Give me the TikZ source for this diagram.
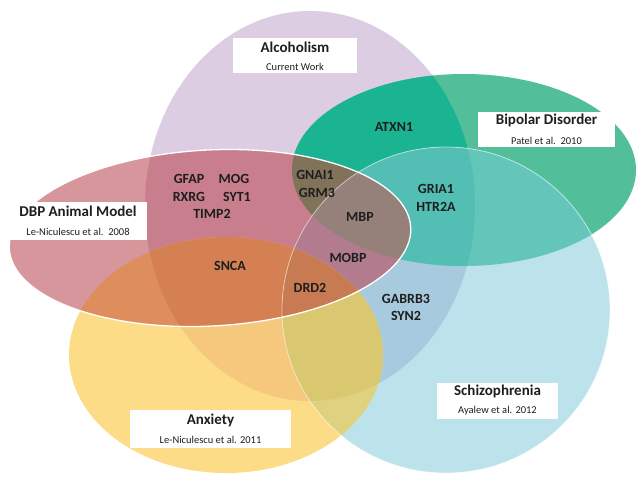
\documentclass[tikz,border=0pt]{standalone}
\usepackage{fontspec}
\setmainfont{Carlito}
\definecolor{cA}{RGB}{220,205,227}
\definecolor{cB}{RGB}{82,191,154}
\definecolor{cS}{RGB}{188,227,235}
\definecolor{cD}{RGB}{214,150,156}
\definecolor{cX}{RGB}{252,220,135}
\definecolor{cAB}{RGB}{26,180,146}
\definecolor{cAS}{RGB}{168,202,222}
\definecolor{cAD}{RGB}{200,126,140}
\definecolor{cAX}{RGB}{246,200,125}
\definecolor{cBS}{RGB}{100,198,186}
\definecolor{cSX}{RGB}{222,210,128}
\definecolor{cDX}{RGB}{222,142,92}
\definecolor{cABS}{RGB}{82,190,180}
\definecolor{cABD}{RGB}{128,115,90}
\definecolor{cADS}{RGB}{178,124,142}
\definecolor{cADX}{RGB}{212,128,82}
\definecolor{cASX}{RGB}{218,200,112}
\definecolor{cABDS}{RGB}{150,128,122}
\definecolor{cADSX}{RGB}{200,122,82}
\definecolor{ink}{RGB}{30,30,30}
\def\eA{(310,206) ellipse [x radius=165pt, y radius=195pt]}
\def\eB{(464,170) ellipse [x radius=172pt, y radius=96pt]}
\def\eS{(446,310) ellipse [x radius=164pt, y radius=163pt]}
\def\eX{(226,355) ellipse [x radius=157pt, y radius=118pt]}
\def\eD{(210,238) ellipse [x radius=201pt, y radius=88pt, rotate=3]}
\begin{document}
\begin{tikzpicture}[x=1pt,y=-1pt,
  gene/.style={font=\bfseries\fontsize{14}{16.5}\selectfont, text=ink, align=center, inner sep=0pt},
  labelbox/.style={fill=white, inner sep=0pt},
  ttl/.style={font=\bfseries\fontsize{15}{18}\selectfont, text=ink, inner sep=0pt},
  sub/.style={font=\fontsize{10.5}{12}\selectfont, text=ink, inner sep=0pt}
]
\useasboundingbox (0,0) rectangle (636,477);
\fill[white] (0,0) rectangle (636,477);

% single sets
\fill[cA] \eA;
\fill[cB] \eB;
\fill[cS] \eS;
\fill[cX] \eX;
\fill[cD] \eD;

% pairs
\begin{scope}\clip \eA; \fill[cAB] \eB; \end{scope}
\begin{scope}\clip \eA; \fill[cAS] \eS; \end{scope}
\begin{scope}\clip \eA; \fill[cAD] \eD; \end{scope}
\begin{scope}\clip \eA; \fill[cAX] \eX; \end{scope}
\begin{scope}\clip \eB; \fill[cBS] \eS; \end{scope}
\begin{scope}\clip \eS; \fill[cSX] \eX; \end{scope}
\begin{scope}\clip \eD; \fill[cDX] \eX; \end{scope}
% triples
\begin{scope}\clip \eA; \clip \eB; \fill[cABS] \eS; \end{scope}
\begin{scope}\clip \eA; \clip \eB; \fill[cABD] \eD; \end{scope}
\begin{scope}\clip \eA; \clip \eD; \fill[cADS] \eS; \end{scope}
\begin{scope}\clip \eA; \clip \eD; \fill[cADX] \eX; \end{scope}
\begin{scope}\clip \eA; \clip \eS; \fill[cASX] \eX; \end{scope}
% quadruples
\begin{scope}\clip \eA; \clip \eB; \clip \eD; \fill[cABDS] \eS; \end{scope}
\begin{scope}\clip \eA; \clip \eD; \clip \eS; \fill[cADSX] \eX; \end{scope}

% outlines
\draw[white, line width=0.8pt, opacity=0.55] \eS;
\draw[white, line width=1.3pt] \eD;

% label boxes
\node[labelbox, minimum width=124pt, minimum height=35pt] (bAlc) at (295,55.5) {};
\node[ttl] (tAlc) at (295,47) {Alcoholism};
\node[sub] (sAlc) at (295,67) {Current Work};

\node[labelbox, minimum width=137pt, minimum height=35pt] (bBip) at (546.5,129.5) {};
\node[ttl] (tBip) at (546.5,120) {Bipolar Disorder};
\node[sub] (sBip) at (546.5,141) {Patel et al.~~2010};

\node[labelbox, minimum width=138pt, minimum height=38pt] (bDBP) at (78,221) {};
\node[ttl] (tDBP) at (78,211) {DBP Animal Model};
\node[sub] (sDBP) at (78,232) {Le-Niculescu et al.~~2008};

\node[labelbox, minimum width=161pt, minimum height=38pt] (bAnx) at (210.5,429) {};
\node[ttl] (tAnx) at (210.5,420) {Anxiety};
\node[sub] (sAnx) at (210.5,440) {Le-Niculescu et al. 2011};

\node[labelbox, minimum width=121pt, minimum height=36pt] (bSch) at (497.5,401) {};
\node[ttl] (tSch) at (497.5,391) {Schizophrenia};
\node[sub] (sSch) at (497.5,411) {Ayalew et al. 2012};

% genes
\node[gene] (gfap) at (189,179) {GFAP};
\node[gene] (mog) at (234,179) {MOG};
\node[gene] (rxrg) at (189,197) {RXRG};
\node[gene] (syt1) at (237,197) {SYT1};
\node[gene] (timp2) at (212,214) {TIMP2};
\node[gene] (gnai1) at (315,175) {GNAI1};
\node[gene] (grm3) at (317,193) {GRM3};
\node[gene] (mbp) at (360,217) {MBP};
\node[gene] (mobp) at (348,258) {MOBP};
\node[gene] (snca) at (230,266) {SNCA};
\node[gene] (drd2) at (310,288) {DRD2};
\node[gene] (atxn1) at (394,127) {ATXN1};
\node[gene] (gria1) at (436,189) {GRIA1};
\node[gene] (htr2a) at (436,207) {HTR2A};
\node[gene] (gabrb3) at (406,299) {GABRB3};
\node[gene] (syn2) at (406,316) {SYN2};
\end{tikzpicture}
\end{document}
